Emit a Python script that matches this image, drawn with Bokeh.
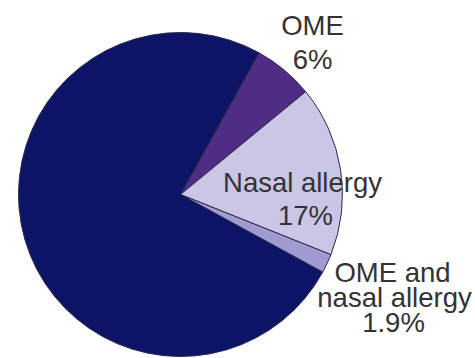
import math
from bokeh.plotting import figure
from bokeh.models import Range1d, ColumnDataSource
from bokeh.core.properties import value
from bokeh.embed import file_html
from bokeh.resources import INLINE

categories = ["OME", "Nasal allergy", "OME and nasal allergy", "None"]
percents = [6.0, 17.0, 1.9, 75.1]
colors = ["#4f2d84", "#cbc6e6", "#a09bd0", "#0d1466"]
label_lines = [["OME", "6%"], ["Nasal allergy", "17%"], ["OME and", "nasal allergy", "1.9%"], []]

W, H = 475, 358
p = figure(width=W, height=H, output_backend="svg", toolbar_location=None,
           x_range=Range1d(0, W), y_range=Range1d(0, H), min_border=0)
p.axis.visible = False
p.grid.visible = False
p.outline_line_color = None
p.background_fill_color = "white"

cx, cy, r = 180, H - 194, 162
start_deg = 61.0
total = sum(percents)
starts, ends = [], []
cur = start_deg
for v in percents:
    span = v / total * 360.0
    ends.append(math.radians(cur))
    starts.append(math.radians(cur - span))
    cur -= span

src = ColumnDataSource(dict(start=starts, end=ends, color=colors, cat=categories))
p.wedge(x=cx, y=cy, radius=r, start_angle="start", end_angle="end",
        fill_color="color", line_color="#2a2a4a", line_width=1, source=src)

# label positions (pixel centers, top-down y)
label_pos = [[(312, 25), (312, 59)],
             [(302, 182), (305, 215)],
             [(392, 272), (394, 297), (393, 322)],
             []]
xs, ys, ts = [], [], []
for lines, poss in zip(label_lines, label_pos):
    for t, (x, y) in zip(lines, poss):
        xs.append(x)
        ys.append(H - y)
        ts.append(t)
p.text(x=xs, y=ys, text=ts, text_font=value("Liberation Sans"), text_font_size="27.5px",
       text_color="#333333", text_align="center", text_baseline="middle")

open("out.html", "w").write(file_html(p, INLINE))
